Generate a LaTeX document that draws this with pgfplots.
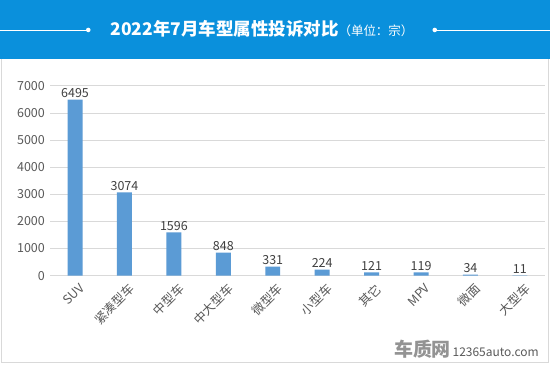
\documentclass[border=0pt]{standalone}
\usepackage{fontspec}
\setmainfont{Noto Sans CJK SC}
\usepackage{pgfplots}
\pgfplotsset{compat=1.18}
\definecolor{hdr}{HTML}{0A90DC}
\definecolor{barc}{HTML}{5B9BD5}
\definecolor{txt}{HTML}{595959}
\definecolor{lbl}{HTML}{404040}
\definecolor{grd}{HTML}{D9D9D9}
\begin{document}
\begin{tikzpicture}
\fill[white] (0pt,0pt) rectangle (550pt,365pt);
\fill[hdr] (0pt,306pt) rectangle (550pt,365pt);
\draw[grd, line width=1pt] (1pt,306pt) -- (1pt,1.5pt) -- (548.5pt,1.5pt) -- (548.5pt,306pt);
\draw[white, line width=0.8pt] (0pt,335pt) -- (88pt,335pt);
\fill[white] (88pt,335pt) circle (2.3pt);
\draw[white, line width=0.8pt] (435pt,335pt) -- (550pt,335pt);
\fill[white] (435pt,335pt) circle (2.3pt);
\node[white, anchor=base, inner sep=0pt] at (262pt,329pt) {{\fontsize{17.5}{18}\selectfont\bfseries 2022年7月车型属性投诉对比}{\fontsize{12.5}{13}\selectfont （单位：宗）}};
\node[anchor=base west, inner sep=0pt] at (394pt,8pt) {{\color{gray!85}\fontsize{19}{19}\selectfont\bfseries 车质网}\,{\color{txt}\fontsize{12}{12}\selectfont 12365auto.com}};
\begin{axis}[
  at={(50pt,89pt)}, anchor=south west,
  scale only axis, width=495pt, height=190pt,
  xmin=-0.5, xmax=9.5, ymin=0, ymax=7000,
  ytick={0,1000,...,7000},
  xtick=data,
  xticklabels={SUV,紧凑型车,中型车,中大型车,微型车,小型车,其它,MPV,微面,大型车},
  xticklabel style={rotate=45, anchor=north east, font=\fontsize{12.5}{13}\selectfont, color=txt, xshift=1pt, yshift=-4pt},
  yticklabel style={font=\fontsize{12.5}{13}\selectfont, color=txt, xshift=-2pt},
  /pgf/number format/assume math mode=true,
  /pgf/number format/1000 sep={},
  major tick length=0pt,
  axis line style={draw=none},
  ymajorgrids, grid style={grd, line width=0.8pt},
  ybar, bar width=15pt,
  nodes near coords,
  every node near coord/.append style={font=\fontsize{12.5}{13}\selectfont, color=lbl, /pgf/number format/assume math mode=true, inner sep=1.5pt},
]
\addplot[fill=barc, draw=none] coordinates {(0,6495) (1,3074) (2,1596) (3,848) (4,331) (5,224) (6,121) (7,119) (8,34) (9,11)};
\end{axis}
\end{tikzpicture}
\end{document}
